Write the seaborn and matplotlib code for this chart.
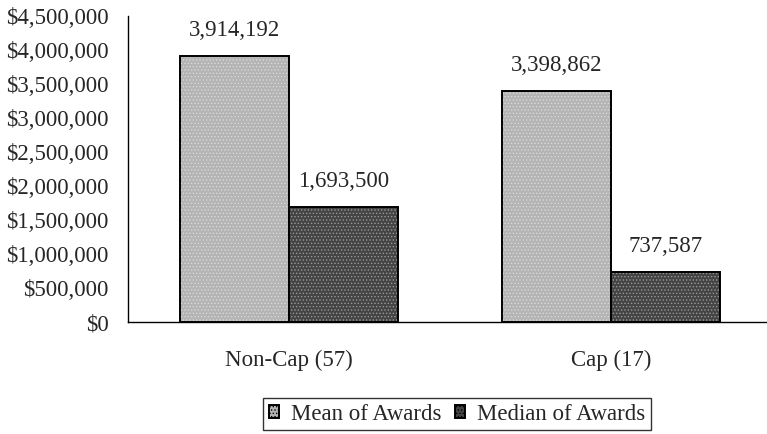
import matplotlib
matplotlib.use('Agg')
import matplotlib.pyplot as plt
import pandas as pd
import seaborn as sns

# data
groups = ['Non-Cap (57)', 'Cap (17)']
series = ['Mean of Awards', 'Median of Awards']
mean_awards = [3914192, 3398862]
median_awards = [1693500, 737587]
y_ticks = list(range(0, 4500001, 500000))

df = pd.DataFrame({
    'group': groups * 2,
    'series': [series[0]] * 2 + [series[1]] * 2,
    'value': mean_awards + median_awards,
})

sns.set_theme(style='white')
plt.rcParams['font.family'] = ['Liberation Serif', 'DejaVu Serif']
plt.rcParams['hatch.linewidth'] = 0.6

fig = plt.figure(figsize=(7.67, 4.34), dpi=100)
ax = fig.add_axes([128 / 767, 1 - 322 / 434, 644 / 767, 306 / 434])

sns.barplot(data=df, x='group', y='value', hue='series', order=groups,
            hue_order=series, palette=['#b4b4b4', '#444444'], width=0.68,
            saturation=1, edgecolor='black', linewidth=1.4, ax=ax)

# stipple texture like the original print
for patch in ax.patches:
    patch.set_hatch('.....')
    patch.set_edgecolor('black')
for cont in ax.containers:
    for bar in cont:
        bar._hatch_color = (0.85, 0.85, 0.85, 1) if bar.get_facecolor()[0] > 0.5 else (0.6, 0.6, 0.6, 1)
    ax.bar_label(cont, labels=[f'{v:,.0f}' for v in cont.datavalues],
                 padding=11, fontsize=16.5)

ax.set_ylim(0, 4500000)
ax.set_xlim(-0.5, 1.5)
ax.set_yticks(y_ticks)
ax.set_yticklabels([f'${v:,.0f}' for v in y_ticks], fontsize=16.5)
ax.set_xticks([-0.5, 0.5, 1.5])
ax.set_xticklabels([])
ax.set_xticks([0, 1], minor=True)
ax.set_xticklabels(groups, minor=True, fontsize=16.5)
ax.tick_params(axis='x', which='major', direction='out', length=6, width=1, color='black')
ax.tick_params(axis='x', which='minor', length=0, pad=20)
ax.tick_params(axis='y', direction='out', length=4, width=1, color='black', pad=10)
ax.set_xlabel('')
ax.set_ylabel('')
sns.despine(ax=ax)
for s in ['left', 'bottom']:
    ax.spines[s].set_color('black')
    ax.spines[s].set_linewidth(1)

handles, labels = ax.get_legend_handles_labels()
ax.get_legend().remove()
leg = fig.legend(handles, labels, loc='upper center', bbox_to_anchor=(457 / 767, 1 - 398 / 434),
                 ncol=2, prop={'family': 'Liberation Serif', 'size': 16.5},
                 frameon=True, fancybox=False, handlelength=0.45, handleheight=0.45,
                 handletextpad=0.5, columnspacing=0.6, borderpad=0.25, borderaxespad=0)
leg.get_frame().set_edgecolor('black')
leg.get_frame().set_linewidth(1)

fig.savefig('out.png', dpi=100)
